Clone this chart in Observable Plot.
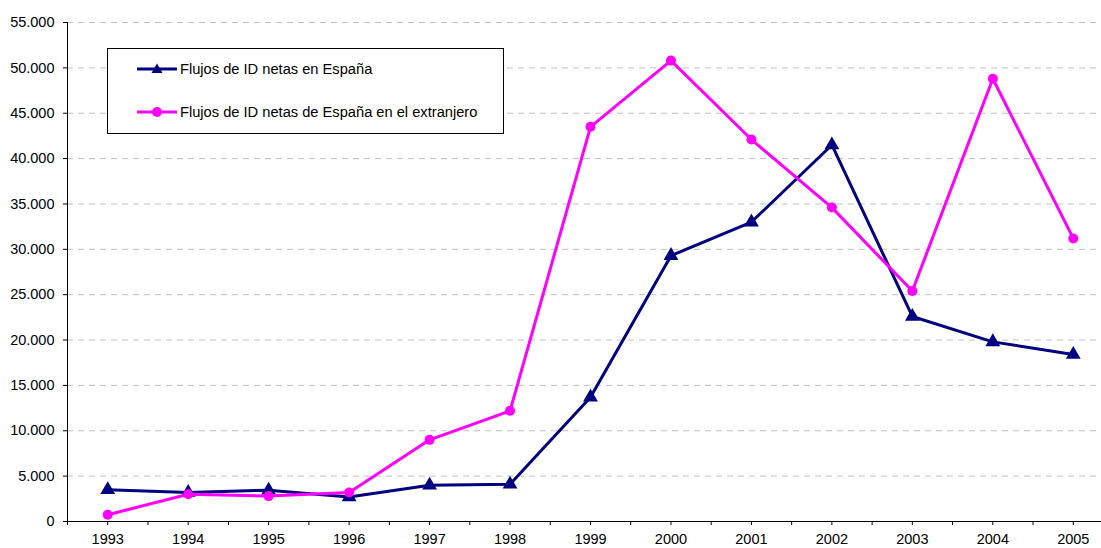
<!DOCTYPE html>
<html>
<head>
<meta charset="utf-8">
<script src="https://cdn.jsdelivr.net/npm/d3@7"></script>
<script src="https://cdn.jsdelivr.net/npm/@observablehq/plot@0.6"></script>
<style>
  html, body { margin: 0; padding: 0; background: #fff; }
  #wrap { position: relative; width: 1101px; height: 548px; font-family: "Liberation Sans", Arial, sans-serif; }
  #legend { position: absolute; left: 107px; top: 48px; width: 397px; height: 86px; border: 1px solid #000; background: #fff; box-sizing: border-box; }
  .row { position: absolute; left: 29px; display: flex; align-items: center; font-size: 14.67px; color: #000; }
  .row svg { display: block; margin-right: 3px; }
</style>
</head>
<body>
<div id="wrap"></div>
<script>
const years = [1993,1994,1995,1996,1997,1998,1999,2000,2001,2002,2003,2004,2005];
const seriesNames = ["Flujos de ID netas en España", "Flujos de ID netas de España en el extranjero"];
const enEspana = [3500,3200,3450,2700,4000,4100,13700,29300,33000,41500,22600,19800,18400];
const extranjero = [750,3000,2800,3200,9000,12200,43500,50800,42100,34600,25400,48800,31200];
const yTicks = [0,5000,10000,15000,20000,25000,30000,35000,40000,45000,50000,55000];
const colors = ["#000080", "#FF00FF"];

const data = [
  ...years.map((y, i) => ({year: y, value: enEspana[i], serie: seriesNames[0]})),
  ...years.map((y, i) => ({year: y, value: extranjero[i], serie: seriesNames[1]}))
];
const s0 = data.filter(d => d.serie === seriesNames[0]);
const s1 = data.filter(d => d.serie === seriesNames[1]);
const fmt = d => d3.format(",")(d).replace(/,/g, ".");
const halfTicks = d3.range(years[0] - 0.5, years[years.length - 1] + 0.51, 0.5);

const chart = Plot.plot({
  width: 1101,
  height: 548,
  marginLeft: 67,
  marginRight: 0,
  marginTop: 22,
  marginBottom: 27,
  style: {fontFamily: "Liberation Sans, Arial, sans-serif", fontSize: "14.5px", color: "#000", background: "#fff", overflow: "hidden"},
  x: {domain: [years[0] - 0.5, years[years.length - 1] + 0.5], range: [67, 1113]},
  y: {domain: [0, 55000], range: [521, 22]},
  marks: [
    Plot.gridY(yTicks.filter(d => d > 0), {stroke: "#c0c0c0", strokeOpacity: 1, strokeDasharray: "6,5", strokeWidth: 1}),
    Plot.axisY({ticks: yTicks, tickFormat: fmt, tickSize: 4, tickPadding: 9, stroke: "#000", fontSize: 14.5, label: null}),
    Plot.axisX({ticks: halfTicks, tickFormat: () => "", tickSize: 4, stroke: "#000", label: null}),
    Plot.axisX({ticks: years, tickFormat: d => String(d), tickSize: 0, tickPadding: 12.5, fontSize: 14.5, label: null}),
    Plot.ruleY([0], {stroke: "#000", strokeWidth: 1}),
    Plot.ruleX([years[0] - 0.5], {y1: 0, y2: 55000, stroke: "#000", strokeWidth: 1}),
    Plot.line(s0, {x: "year", y: "value", stroke: colors[0], strokeWidth: 3}),
    Plot.dot(s0, {x: "year", y: "value", symbol: "triangle", r: 5.5, fill: colors[0], stroke: "none"}),
    Plot.line(s1, {x: "year", y: "value", stroke: colors[1], strokeWidth: 3}),
    Plot.dot(s1, {x: "year", y: "value", symbol: "circle", r: 5, fill: colors[1], stroke: "none"})
  ]
});
const wrap = document.getElementById("wrap");
wrap.appendChild(chart);

const legend = document.createElement("div");
legend.id = "legend";
const rowTops = [12, 55];
seriesNames.forEach((name, i) => {
  const row = document.createElement("div");
  row.className = "row";
  row.style.top = rowTops[i] + "px";
  const sym = i === 0
    ? `<polygon points="20,-5.5 25.5,4 14.5,4" fill="${colors[0]}"/>`
    : `<circle cx="20" cy="0" r="5" fill="${colors[1]}"/>`;
  row.innerHTML = `<svg width="40" height="16" viewBox="0 -8 40 16"><line x1="0" y1="0" x2="40" y2="0" stroke="${colors[i]}" stroke-width="3"/>${sym}</svg><span>${name}</span>`;
  legend.appendChild(row);
});
wrap.appendChild(legend);
</script>
</body>
</html>
